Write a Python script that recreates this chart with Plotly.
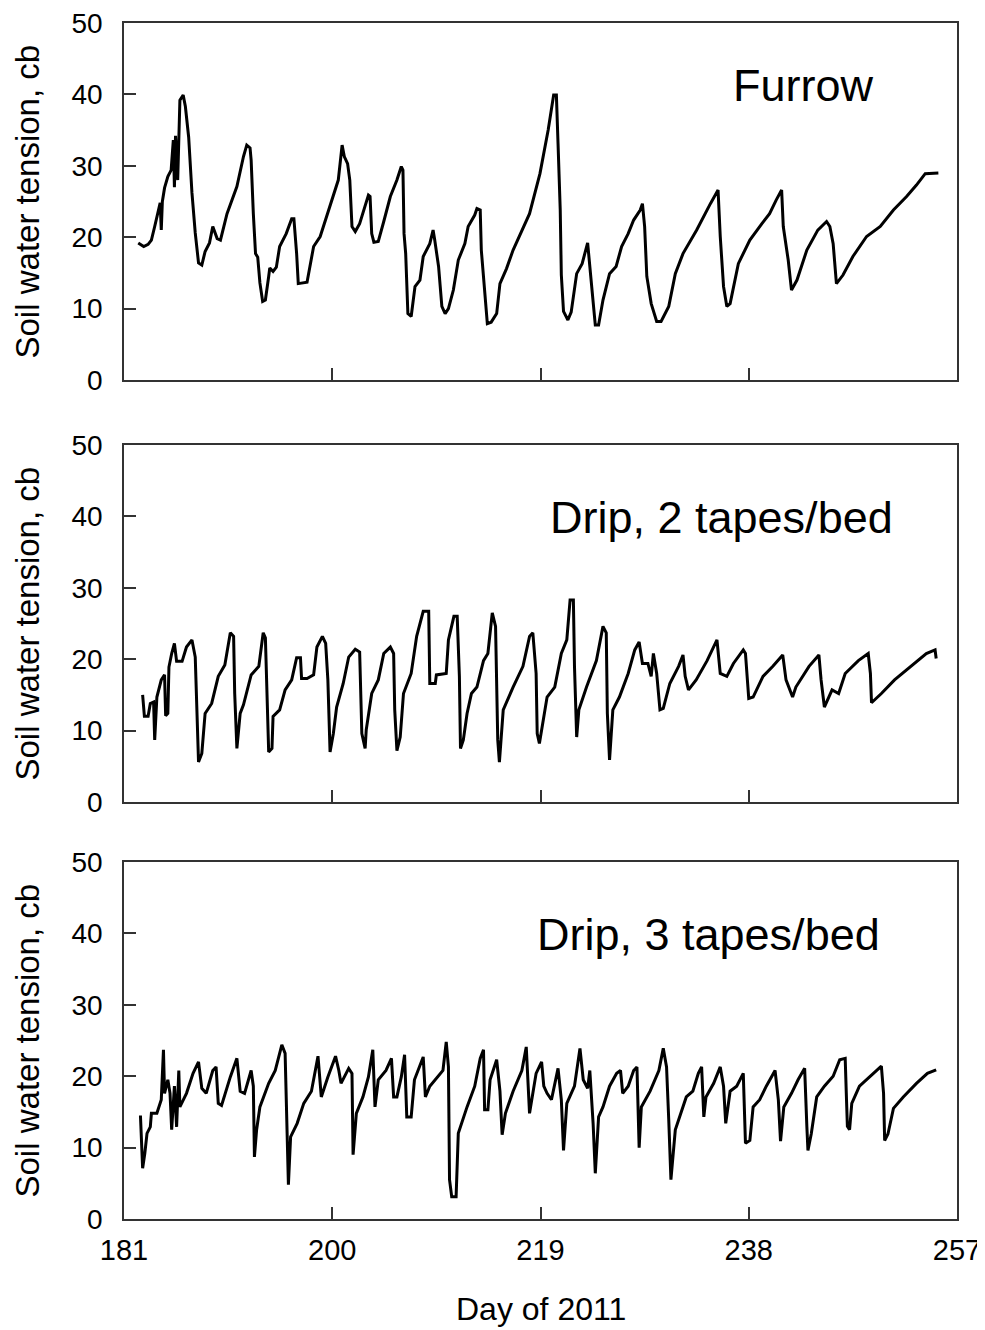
import plotly.graph_objects as go

# ---------------- data ----------------
furrow_day = [182.3, 182.8, 183.2, 183.5, 183.8, 184.3, 184.4, 184.5, 184.7, 185.0, 185.3, 185.5, 185.6, 185.7,
              185.9, 186.0, 186.1, 186.4, 186.6, 186.9, 187.2, 187.5, 187.8, 188.1, 188.4, 188.8, 189.1, 189.5,
              189.8, 190.4, 191.3, 191.9, 192.2, 192.5, 192.6, 192.8, 193.0, 193.2, 193.4, 193.65, 193.9, 194.2,
              194.3, 194.6, 194.9, 195.2, 195.8, 196.3, 196.5, 196.75, 196.9, 197.7, 198.3, 198.9, 200.1, 200.55,
              200.9, 201.1, 201.4, 201.6, 201.8, 202.1, 202.5, 203.0, 203.3, 203.45, 203.6, 203.8, 204.2, 204.7,
              205.3, 205.9, 206.3, 206.45, 206.55, 206.7, 206.9, 207.2, 207.55, 208.0, 208.3, 208.9, 209.2, 209.35,
              209.7, 210.0, 210.3, 210.6, 211.05, 211.5, 212.1, 212.4, 213.0, 213.2, 213.5, 213.6, 213.9, 214.15,
              214.5, 215.0, 215.3, 215.9, 216.5, 217.1, 218.0, 218.95, 219.7, 220.2, 220.45, 220.6, 220.8, 220.9,
              221.1, 221.5, 221.8, 222.3, 222.8, 223.3, 223.5, 223.7, 224.0, 224.3, 224.7, 225.3, 225.9, 226.4,
              227.0, 227.5, 228.1, 228.3, 228.5, 228.7, 229.1, 229.6, 230.0, 230.7, 231.3, 232.0, 233.25, 234.5,
              235.2, 235.4, 235.7, 236.0, 236.3, 237.05, 238.1, 239.2, 239.9, 240.5, 241.0, 241.15, 241.6, 241.9,
              242.4, 243.3, 244.3, 245.1, 245.4, 245.7, 246.0, 246.6, 247.5, 248.75, 250.0, 251.2, 252.4, 253.3,
              254.1, 255.3]
furrow_val = [19.2, 18.7, 19.0, 19.6, 21.5, 24.8, 21.0, 25.0, 26.9, 28.5, 29.4, 33.6, 27.0, 34.2,
              28.0, 34.5, 39.2, 39.9, 38.3, 34.0, 26.2, 20.6, 16.4, 16.1, 18.0, 19.2, 21.5, 19.8,
              19.6, 23.3, 27.1, 31.3, 32.9, 32.5, 30.8, 23.3, 17.7, 17.2, 13.6, 11.0, 11.2, 14.5,
              15.7, 15.2, 15.8, 18.7, 20.5, 22.6, 22.6, 17.7, 13.5, 13.7, 18.7, 20.1, 25.7, 28.0,
              32.9, 31.3, 30.3, 28.0, 21.5, 20.8, 21.9, 24.3, 25.9, 25.7, 20.5, 19.3, 19.4, 22.2,
              25.7, 28.0, 29.9, 29.4, 20.5, 17.7, 9.3, 8.9, 13.1, 14.0, 17.3, 19.1, 21.0, 19.6,
              15.9, 10.3, 9.3, 10.0, 12.6, 16.8, 19.1, 21.5, 23.1, 24.0, 23.8, 18.2, 12.6, 7.9,
              8.1, 9.3, 13.5, 15.6, 18.2, 20.3, 23.3, 28.9, 35.0, 39.9, 39.9, 33.1, 23.8, 14.7,
              9.6, 8.4, 9.5, 14.9, 16.3, 19.2, 15.8, 12.1, 7.7, 7.7, 11.2, 14.9, 15.9, 18.7,
              20.5, 22.4, 23.8, 24.7, 21.5, 14.5, 10.7, 8.2, 8.2, 10.3, 14.9, 17.7, 21.0, 24.7,
              26.6, 20.1, 13.1, 10.3, 10.7, 16.3, 19.6, 21.9, 23.3, 25.2, 26.6, 21.5, 16.8, 12.6,
              14.0, 18.2, 21.0, 22.2, 21.5, 19.1, 13.5, 14.7, 17.3, 20.1, 21.5, 23.8, 25.7, 27.3,
              28.9, 29.0]

drip2_day = [182.7, 182.86, 183.2, 183.4, 183.7, 183.8, 184.0, 184.4, 184.7, 184.8, 185.0, 185.1, 185.35, 185.6,
             185.8, 186.3, 186.7, 187.2, 187.5, 187.6, 187.8, 188.1, 188.4, 189.0, 189.6, 190.2, 190.7, 191.0,
             191.1, 191.3, 191.6, 191.9, 192.6, 193.3, 193.7, 193.9, 194.0, 194.2, 194.5, 194.6, 195.2, 195.7,
             196.3, 196.75, 197.1, 197.2, 197.7, 198.3, 198.6, 199.1, 199.4, 199.6, 199.8, 200.1, 200.4, 201.0,
             201.5, 202.1, 202.5, 202.7, 203.0, 203.1, 203.6, 204.2, 204.7, 205.3, 205.6, 205.7, 205.9, 206.2,
             206.5, 207.2, 207.7, 208.3, 208.8, 208.9, 209.4, 209.5, 210.4, 210.6, 211.1, 211.4, 211.6, 211.7,
             211.96, 212.3, 212.7, 213.2, 213.8, 214.2, 214.6, 214.9, 215.1, 215.25, 215.6, 216.5, 217.4, 218.0,
             218.3, 218.6, 218.7, 218.9, 219.6, 220.3, 220.9, 221.4, 221.7, 222.0, 222.1, 222.3, 222.5, 223.2,
             224.1, 224.7, 225.0, 225.1, 225.3, 225.6, 226.2, 227.0, 227.6, 228.0, 228.3, 228.8, 229.1, 229.3,
             229.6, 229.9, 230.2, 230.8, 231.6, 232.0, 232.2, 232.5, 233.2, 234.2, 235.1, 235.4, 236.0, 236.6,
             237.5, 237.7, 238.0, 238.4, 239.3, 240.2, 241.1, 241.4, 242.0, 242.3, 243.5, 244.4, 244.6, 244.9,
             245.6, 246.2, 246.8, 248.0, 248.9, 249.1, 249.2, 250.1, 251.3, 252.8, 254.2, 255.0, 255.1]
drip2_val = [15.0, 12.0, 12.0, 13.8, 14.0, 8.7, 14.7, 17.1, 17.8, 12.1, 12.4, 18.9, 20.8, 22.2,
             19.7, 19.7, 21.7, 22.7, 20.3, 16.1, 5.6, 6.8, 12.4, 13.8, 17.6, 19.2, 23.7, 23.2,
             15.2, 7.5, 12.4, 13.6, 17.8, 19.0, 23.7, 23.0, 17.6, 7.0, 7.5, 12.0, 12.9, 15.7,
             17.1, 20.2, 20.2, 17.3, 17.3, 17.8, 21.7, 23.2, 22.2, 17.1, 7.0, 9.6, 13.3, 16.6,
             20.3, 21.4, 21.0, 9.6, 7.5, 10.1, 15.2, 17.1, 20.8, 21.7, 20.8, 12.9, 7.2, 9.1,
             15.2, 18.0, 23.2, 26.7, 26.7, 16.6, 16.6, 17.8, 18.0, 22.7, 26.0, 26.0, 17.6, 7.5,
             8.7, 12.4, 15.2, 16.1, 19.8, 20.8, 26.5, 24.6, 8.7, 5.6, 12.9, 16.1, 19.0, 23.2,
             23.7, 18.0, 9.6, 8.2, 14.7, 16.1, 20.8, 22.7, 28.3, 28.3, 19.0, 9.1, 12.9, 16.1,
             19.8, 24.6, 23.7, 12.4, 5.9, 12.9, 14.7, 18.0, 21.3, 22.4, 19.4, 19.4, 17.6, 20.8,
             18.0, 12.9, 13.1, 16.6, 19.0, 20.6, 17.6, 15.7, 17.1, 19.8, 22.7, 18.0, 17.6, 19.4,
             21.3, 20.8, 14.5, 14.7, 17.6, 19.0, 20.6, 17.1, 14.7, 16.1, 19.0, 20.6, 17.1, 13.3,
             15.7, 15.2, 18.0, 19.8, 20.8, 18.0, 13.9, 15.2, 17.1, 19.0, 20.8, 21.3, 20.1]

drip3_day = [182.5, 182.6, 182.7, 182.9, 183.1, 183.4, 183.5, 184.0, 184.4, 184.6, 184.7, 185.0, 185.2, 185.35,
             185.6, 185.8, 186.0, 186.1, 186.7, 187.3, 187.8, 188.1, 188.5, 189.1, 189.4, 189.6, 189.9, 190.7,
             191.3, 191.6, 192.0, 192.6, 192.8, 192.9, 193.1, 193.4, 194.2, 194.8, 195.4, 195.7, 195.9, 196.0,
             196.2, 196.8, 197.4, 198.1, 198.7, 199.0, 199.6, 200.3, 200.6, 200.8, 201.5, 201.8, 201.9, 202.2,
             202.8, 203.3, 203.7, 203.9, 204.2, 204.9, 205.4, 205.6, 205.9, 206.3, 206.6, 206.8, 207.2, 207.5,
             208.3, 208.5, 208.9, 209.5, 210.1, 210.4, 210.6, 210.7, 210.9, 211.3, 211.4, 211.5, 212.3, 213.0,
             213.5, 213.8, 213.9, 214.2, 214.4, 215.0, 215.3, 215.5, 215.8, 216.5, 217.3, 217.7, 218.0, 218.3,
             218.6, 219.1, 219.3, 219.6, 220.0, 220.6, 220.9, 221.1, 221.4, 222.1, 222.6, 222.9, 223.3, 223.5,
             223.8, 224.0, 224.3, 224.7, 225.3, 225.95, 226.3, 226.5, 227.0, 227.5, 227.8, 228.0, 228.2, 229.0,
             229.8, 230.2, 230.5, 230.7, 230.9, 231.3, 231.7, 232.3, 232.9, 233.4, 233.7, 233.9, 234.1, 234.8,
             235.4, 235.7, 235.9, 236.3, 236.9, 237.5, 237.7, 238.1, 238.4, 239.0, 239.6, 240.4, 240.7, 240.9,
             241.2, 241.9, 242.5, 243.1, 243.3, 243.4, 243.7, 244.2, 244.9, 245.7, 246.3, 246.8, 246.9, 247.0,
             247.2, 247.4, 248.1, 249.1, 250.1, 250.3, 250.4, 250.7, 251.2, 252.1, 253.3, 254.3, 255.1]
drip3_val = [14.5, 10.4, 7.1, 9.2, 12.0, 12.9, 14.8, 14.8, 16.7, 23.7, 17.6, 19.5, 17.6, 12.5,
             18.6, 12.9, 20.8, 15.7, 17.6, 20.4, 22.0, 18.3, 17.6, 20.8, 21.3, 16.2, 15.9, 19.9,
             22.5, 17.9, 17.6, 20.8, 18.6, 8.7, 12.5, 15.7, 19.0, 20.8, 24.4, 23.2, 12.0, 4.8,
             11.5, 13.4, 16.2, 17.9, 22.8, 17.1, 19.9, 22.8, 20.8, 19.0, 21.1, 20.4, 9.0, 14.8,
             17.1, 19.9, 23.7, 15.7, 19.5, 20.8, 22.5, 17.1, 17.1, 19.9, 23.0, 14.3, 14.3, 19.5,
             22.7, 17.1, 18.6, 19.7, 20.8, 24.8, 21.3, 5.5, 3.1, 3.1, 8.3, 12.0, 15.7, 18.6,
             22.5, 23.7, 15.3, 15.3, 19.5, 22.3, 17.9, 11.8, 14.8, 17.9, 20.8, 24.1, 14.8, 17.6,
             20.4, 22.0, 18.6, 17.6, 16.7, 21.1, 16.7, 9.6, 16.2, 18.6, 23.9, 19.5, 18.3, 20.8,
             13.4, 6.4, 14.3, 15.7, 18.6, 20.4, 20.8, 17.6, 18.6, 20.8, 21.3, 10.0, 15.7, 17.9,
             20.8, 23.9, 21.3, 13.9, 5.5, 12.5, 14.3, 17.1, 17.9, 20.4, 21.3, 14.3, 17.1, 19.0,
             21.3, 18.6, 13.4, 17.9, 18.6, 20.4, 10.6, 11.0, 15.7, 16.7, 18.6, 20.8, 16.7, 10.9,
             15.7, 17.6, 19.5, 21.1, 13.0, 9.6, 11.9, 17.1, 18.6, 20.0, 22.3, 22.5, 17.6, 13.0,
             12.5, 16.2, 18.6, 20.0, 21.4, 17.6, 11.0, 11.9, 15.5, 17.1, 19.0, 20.4, 20.9]

panel_labels = ["Furrow", "Drip, 2 tapes/bed", "Drip, 3 tapes/bed"]
x_ticks = [181, 200, 219, 238, 257]
y_ticks = [0, 10, 20, 30, 40, 50]
x_title = "Day of 2011"
y_title = "Soil water tension, cb"

# ---------------- figure ----------------
# The page body has an 8 px margin, so the figure is drawn 8 px smaller and
# every reference pixel position is shifted by OFF.
OFF = 8
FONT = "Liberation Sans, Arial, sans-serif"
AX = "#333333"
W, H = 985 - OFF, 1330 - OFF
ML, MT = 124 - OFF, 23 - OFF
MR = W - (957 - OFF)
MB = H - (1219 - OFF)
plot_h = H - MT - MB
plot_w = W - ML - MR

def dom(top_ref, bot_ref):
    top_px, bot_px = top_ref - OFF, bot_ref - OFF
    return [(H - MB - bot_px) / plot_h, (H - MB - top_px) / plot_h]

domains = [dom(23, 380), dom(445, 802), dom(862, 1219)]
series = [(furrow_day, furrow_val), (drip2_day, drip2_val), (drip3_day, drip3_val)]
label_pos = [(243.0, 41.3), (235.5, 39.8), (234.3, 39.8)]

fig = go.Figure()
layout = dict(
    width=W, height=H,
    margin=dict(l=ML, r=MR, t=MT, b=MB, autoexpand=False),
    paper_bgcolor="white", plot_bgcolor="white",
    showlegend=False,
    font=dict(family=FONT, color="black"),
)
annotations = []
for i, ((xd, yd), d) in enumerate(zip(series, domains)):
    n = "" if i == 0 else str(i + 1)
    fig.add_trace(go.Scatter(x=xd, y=yd, mode="lines", xaxis="x" + n, yaxis="y" + n,
                             line=dict(color="black", width=3), hoverinfo="skip"))
    bottom = (i == 2)
    layout["xaxis" + n] = dict(
        range=[181, 257], domain=[0, 1], anchor="y" + n, automargin=False,
        tickmode="array", tickvals=x_ticks,
        ticktext=[str(t) for t in x_ticks] if bottom else [""] * len(x_ticks),
        showticklabels=bottom, ticks="inside", ticklen=12, tickwidth=1.5, tickcolor=AX,
        showline=True, linecolor=AX, linewidth=1.5, mirror=True,
        showgrid=False, zeroline=False,
        tickfont=dict(size=29, family=FONT, color="black"),
        ticklabelstandoff=4, ticklabeloverflow="allow",
    )
    layout["yaxis" + n] = dict(
        range=[0, 50], domain=d, anchor="x" + n, automargin=False,
        tickmode="array", tickvals=y_ticks, ticktext=[str(t) for t in y_ticks],
        ticks="inside", ticklen=12, tickwidth=1.5, tickcolor=AX,
        showline=True, linecolor=AX, linewidth=1.5, mirror=True,
        showgrid=False, zeroline=False,
        tickfont=dict(size=28, family=FONT, color="black"),
        ticklabelstandoff=14, ticklabeloverflow="allow",
    )
    annotations.append(dict(
        text=panel_labels[i], x=label_pos[i][0], y=label_pos[i][1],
        xref="x" + n, yref="y" + n, showarrow=False,
        xanchor="center", yanchor="middle",
        font=dict(size=45, family=FONT, color="black"),
    ))
    annotations.append(dict(
        text=y_title, x=((27 - OFF) - ML) / plot_w, y=(d[0] + d[1]) / 2,
        xref="paper", yref="paper", showarrow=False, textangle=-90,
        xanchor="center", yanchor="middle",
        font=dict(size=33, family=FONT, color="black"),
    ))

annotations.append(dict(
    text=x_title, x=0.5, y=(H - MB - (1309 - OFF)) / plot_h,
    xref="paper", yref="paper", showarrow=False,
    xanchor="center", yanchor="middle",
    font=dict(size=32, family=FONT, color="black"),
))
layout["annotations"] = annotations
fig.update_layout(**layout)
fig.write_html("out.html")
